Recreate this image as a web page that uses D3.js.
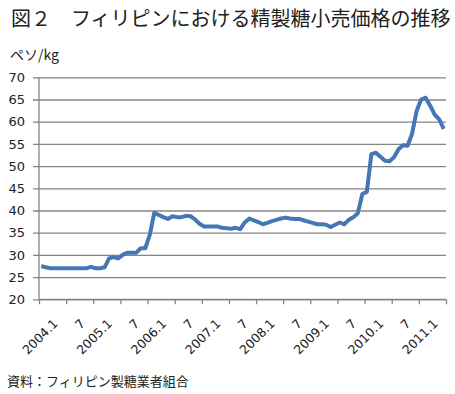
<!DOCTYPE html>
<html>
<head>
<meta charset="utf-8">
<script src="https://cdn.jsdelivr.net/npm/d3@7"></script>
<style>
	body { margin: 0; background: #fff; }
	svg { display: block; }
	.title { font-family: "Noto Sans CJK JP", sans-serif; font-size: 20px; fill: #222; }
	.unit, .source { font-family: "Noto Sans CJK JP", sans-serif; fill: #222; }
	.axis text { font-family: "DejaVu Sans", sans-serif; fill: #222; }
</style>
</head>
<body>
<script>

// monthly retail price, 2004.1 - 2011.6 (peso/kg)
const prices = [
	27.5, 27.2, 27.0, 27.0, 27.0, 27.0, 27.0, 27.0, 27.0, 27.0, 27.0, 27.3,
	27.0, 27.0, 27.2, 29.2, 29.5, 29.2, 30.0, 30.5, 30.5, 30.5, 31.5, 31.5,
	34.5, 39.5, 39.0, 38.5, 38.1, 38.7, 38.5, 38.5, 38.8, 38.7, 38.0, 37.0,
	36.4, 36.4, 36.4, 36.4, 36.1, 36.0, 35.9, 36.1, 35.8, 37.3, 38.2, 37.8,
	37.4, 36.9, 37.2, 37.6, 37.9, 38.2, 38.4, 38.2, 38.1, 38.1, 37.8, 37.5,
	37.2, 36.9, 36.9, 36.8, 36.3, 36.8, 37.3, 36.9, 37.9, 38.5, 39.4, 43.7,
	44.2, 52.7, 53.0, 52.1, 51.2, 51.1, 52.0, 53.8, 54.7, 54.6, 57.3, 62.4,
	65.0, 65.4, 63.6, 61.6, 60.5, 58.4
];
const periodLabels = ["2004.1", "7", "2005.1", "7", "2006.1", "7", "2007.1", "7",
	"2008.1", "7", "2009.1", "7", "2010.1", "7", "2011.1"];
const yTicks = [20, 25, 30, 35, 40, 45, 50, 55, 60, 65, 70];

const WIDTH = 455, HEIGHT = 394;
const PLOT = { left: 39, right: 446, top: 77.3, bottom: 299.3 };
const MONTHS_PER_LABEL = 6;

const svg = d3.select('body').append('svg')
	.attr('width', WIDTH)
	.attr('height', HEIGHT);

const x = d3.scaleLinear()
	.domain([0, periodLabels.length * MONTHS_PER_LABEL])
	.range([PLOT.left, PLOT.right]);
const y = d3.scaleLinear()
	.domain([20, 70])
	.range([PLOT.bottom, PLOT.top]);

/* titles */
svg.append('text').attr('class', 'title')
	.attr('x', 11).attr('y', 26)
	.text('図２　フィリピンにおける精製糖小売価格の推移');
svg.append('text').attr('class', 'unit')
	.attr('x', 10).attr('y', 60)
	.style('font-size', '14px')
	.text('ペソ/kg');
svg.append('text').attr('class', 'source')
	.attr('x', 7).attr('y', 386)
	.style('font-size', '13px')
	.text('資料：フィリピン製糖業者組合');

/* y axis + grid */
const yAxis = svg.append('g')
	.attr('class', 'axis')
	.attr('transform', `translate(${PLOT.left},0)`)
	.call(d3.axisLeft(y).tickValues(yTicks).tickSize(6).tickPadding(8));
yAxis.select('.domain').remove();
yAxis.selectAll('.tick line')
	.attr('x2', PLOT.right - PLOT.left)
	.attr('x1', -6)
	.attr('stroke', '#858585')
	.attr('stroke-width', 1.3);
yAxis.selectAll('.tick text').style('font-size', '13px');

svg.append('line')
	.attr('x1', PLOT.left).attr('x2', PLOT.left)
	.attr('y1', PLOT.top).attr('y2', PLOT.bottom)
	.attr('stroke', '#858585').attr('stroke-width', 1.3);

/* x axis: ticks every 6 months, labels centred between */
const tickMonths = d3.range(0, periodLabels.length * MONTHS_PER_LABEL + 1, MONTHS_PER_LABEL);
const xAxis = svg.append('g')
	.attr('class', 'axis')
	.attr('transform', `translate(0,${PLOT.bottom})`)
	.call(d3.axisBottom(x).tickValues(tickMonths).tickSize(5).tickFormat(''));
xAxis.select('.domain')
	.attr('d', `M${PLOT.left},0H${PLOT.right}`)
	.attr('stroke', '#858585').attr('stroke-width', 1.3);
xAxis.selectAll('.tick line').attr('stroke', '#858585').attr('stroke-width', 1.3);

svg.append('g')
	.attr('class', 'axis')
	.selectAll('text')
	.data(periodLabels)
	.enter().append('text')
	.attr('transform', (d, i) =>
		`translate(${x(i * MONTHS_PER_LABEL + MONTHS_PER_LABEL / 2) + 3},${PLOT.bottom + 22}) rotate(-45)`)
	.attr('text-anchor', 'end')
	.attr('dy', '0.35em')
	.style('font-size', '12.5px')
	.text(d => d);

/* price line */
const line = d3.line()
	.x((d, i) => x(i + 0.5))
	.y(d => y(d));

svg.append('path')
	.datum(prices)
	.attr('fill', 'none')
	.attr('stroke', '#4677b5')
	.attr('stroke-width', 4)
	.attr('stroke-linejoin', 'round')
	.attr('d', line);

</script>
</body>
</html>
